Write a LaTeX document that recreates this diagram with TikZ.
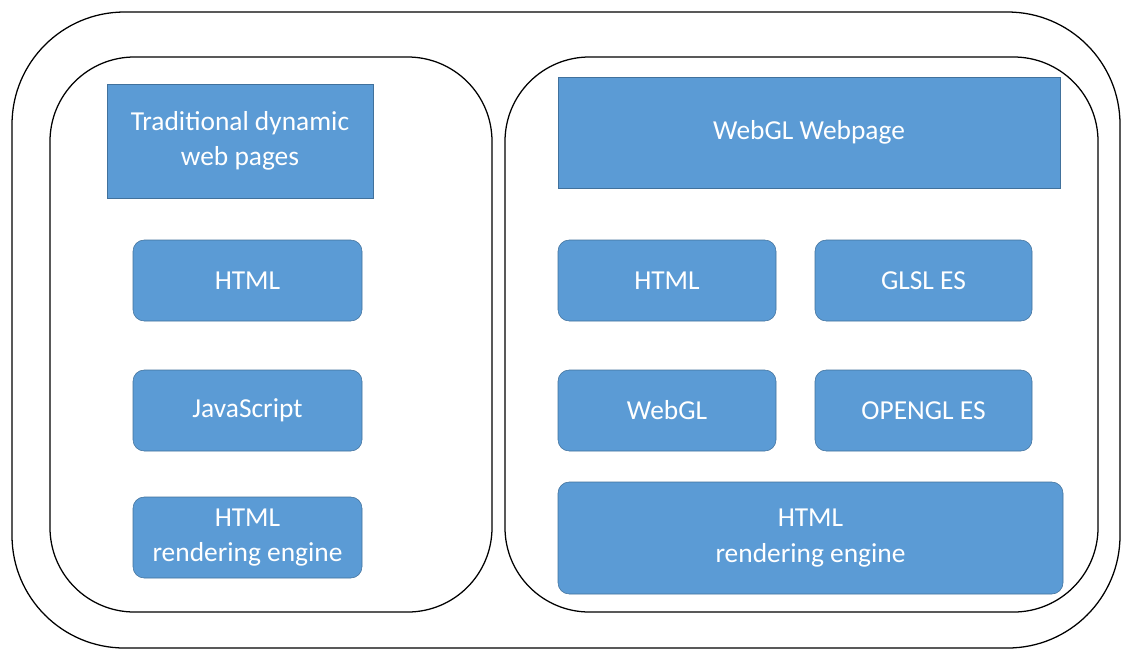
\documentclass[tikz,border=0pt]{standalone}
\usepackage{fontspec}
\setmainfont{Carlito}
\definecolor{boxfill}{HTML}{5B9BD5}
\definecolor{boxline}{HTML}{41719C}
\tikzset{
    layer/.style={draw=boxline, fill=boxfill, rounded corners=8pt, text=white,
        align=center, font=\fontsize{19.5}{25}\selectfont, inner sep=0pt},
    toplayer/.style={layer, rounded corners=0pt},
    frame/.style={draw=black, line width=0.9pt}
}
\begin{document}
\begin{tikzpicture}[x=0.025cm, y=-0.025cm]
    \useasboundingbox (0,0) rectangle (1128,653);

    % 外框
    \draw[frame, rounded corners=80] (12,12) rectangle (1120,648);

    % 左侧：传统动态网页
    \draw[frame, rounded corners=60] (50,57) rectangle (492,612);
    \node[toplayer, minimum width=266*0.025cm, minimum height=114*0.025cm] (trad) at (240,141) {Traditional dynamic\\web pages};
    \node[layer, minimum width=229*0.025cm, minimum height=81*0.025cm] (lhtml) at (247.5,280.5) {HTML};
    \node[layer, minimum width=229*0.025cm, minimum height=81*0.025cm] (ljs) at (247.5,410.5) {JavaScript};
    \node[layer, minimum width=229*0.025cm, minimum height=81*0.025cm] (lengine) at (247.5,537.5) {HTML\\rendering engine};

    % 右侧：WebGL网页
    \draw[frame, rounded corners=60] (505,57) rectangle (1098,612);
    \node[toplayer, minimum width=502*0.025cm, minimum height=111*0.025cm] (webpage) at (809,132.5) {WebGL Webpage};
    \node[layer, minimum width=218*0.025cm, minimum height=81*0.025cm] (rhtml) at (667,280.5) {HTML};
    \node[layer, minimum width=217*0.025cm, minimum height=81*0.025cm] (glsl) at (923.5,280.5) {GLSL ES};
    \node[layer, minimum width=218*0.025cm, minimum height=81*0.025cm] (webgl) at (667,410.5) {WebGL};
    \node[layer, minimum width=217*0.025cm, minimum height=81*0.025cm] (opengl) at (923.5,410.5) {OPENGL ES};
    \node[layer, minimum width=505*0.025cm, minimum height=112*0.025cm] (rengine) at (810.5,538) {HTML\\rendering engine};

\end{tikzpicture}
\end{document}
